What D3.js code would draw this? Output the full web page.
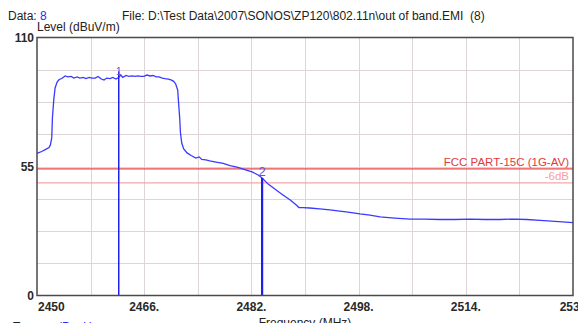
<!DOCTYPE html>
<html>
<head>
<meta charset="utf-8">
<script src="https://cdn.jsdelivr.net/npm/d3@7"></script>
<style>
  html, body { margin: 0; padding: 0; background: #fff; overflow: hidden; }
  svg { display: block; font-family: "Liberation Sans", Arial, sans-serif; }
</style>
</head>
<body>
<svg id="chart" width="578" height="323"></svg>
<script>
// Trace: frequency (MHz) and level (dBuV/m)
const freq = [
  2450.0, 2450.7, 2451.3, 2451.8, 2452.0, 2452.2, 2452.3, 2452.5, 2452.7, 2453.0,
  2453.3, 2453.7, 2454.2, 2454.6, 2455.1, 2455.5, 2456.0, 2456.4, 2456.9, 2457.3,
  2457.8, 2458.2, 2458.7, 2459.1, 2459.6, 2460.0, 2460.4, 2460.9, 2461.3, 2461.8,
  2462.2, 2462.5, 2462.8, 2463.3, 2463.7, 2464.2, 2464.6, 2465.1, 2465.5, 2466.0,
  2466.4, 2466.9, 2467.3, 2467.8, 2468.2, 2468.7, 2469.1, 2469.6, 2470.0, 2470.4,
  2470.7, 2471.0, 2471.1, 2471.3, 2471.4, 2471.6, 2471.9, 2472.4, 2473.0, 2473.7,
  2474.2, 2474.6, 2475.2, 2475.8, 2476.7, 2477.8, 2478.8, 2480.0, 2481.0, 2482.1,
  2483.0, 2483.6, 2484.5, 2485.5, 2486.6, 2487.8, 2488.7, 2489.1, 2489.7, 2490.7,
  2492.2, 2493.7, 2495.2, 2496.7, 2498.2, 2499.7, 2501.2, 2503.4, 2505.7, 2507.9,
  2510.1, 2512.4, 2514.6, 2516.9, 2519.1, 2521.3, 2523.1, 2525.1, 2527.3, 2530.0
];
const level = [
  60.6, 61.4, 62.3, 63.1, 64.2, 67.2, 75.7, 83.4, 88.5, 91.0,
  92.1, 92.5, 93.6, 93.2, 93.4, 92.7, 93.2, 92.7, 93.0, 92.5,
  93.0, 92.7, 92.7, 93.4, 92.3, 91.9, 92.7, 92.5, 93.0, 92.3,
  93.0, 94.0, 93.0, 93.8, 93.4, 93.6, 93.4, 93.6, 93.4, 93.4,
  94.0, 93.6, 93.8, 93.2, 93.2, 92.7, 92.5, 92.3, 91.9, 91.3,
  90.2, 87.6, 83.4, 75.7, 69.7, 65.0, 62.5, 60.8, 59.7, 58.6,
  59.1, 58.0, 57.8, 57.4, 56.9, 56.3, 55.4, 54.6, 53.7, 52.7,
  51.4, 50.1, 47.5, 45.4, 43.1, 40.7, 38.6, 37.5, 37.5, 37.3,
  36.9, 36.5, 36.0, 35.4, 34.8, 34.3, 33.5, 33.0, 32.6, 32.6,
  32.4, 32.4, 32.6, 32.4, 32.4, 32.6, 32.4, 32.0, 31.6, 31.1
];

// Markers
const markerLabels = ["1", "2"];
const markerFreq = [2462.2, 2483.6];
const markerLevel = [93.0, 50.1];

// Limit lines
const limitNames = ["FCC PART-15C (1G-AV)", "-6dB"];
const limitLevels = [54, 48];

// Axis ticks
const xTickValues = [2450, 2466, 2482, 2498, 2514, 2530];
const xTickLabels = ["2450", "2466.", "2482.", "2498.", "2514.", "2530"];
const yTickValues = [0, 55, 110];
const yTickLabels = ["0", "55", "110"];

const svg = d3.select("#chart");
const plotL = 37, plotR = 573, plotT = 37.5, plotB = 295.5;

const x = d3.scaleLinear().domain([2450, 2530]).range([plotL, plotR]);
const y = d3.scaleLinear().domain([0, 110]).range([plotB, plotT]);

// Grid
const grid = svg.append("g").attr("shape-rendering", "crispEdges");
grid.selectAll("line.v").data(d3.range(2458, 2530, 8)).enter().append("line")
  .attr("x1", d => Math.round(x(d)) + 0.5).attr("x2", d => Math.round(x(d)) + 0.5)
  .attr("y1", plotT).attr("y2", plotB)
  .attr("stroke", "#dcd4d6").attr("stroke-width", 1);
grid.selectAll("line.h").data(d3.range(1, 8).map(k => k * 13.75)).enter().append("line")
  .attr("y1", d => Math.round(y(d)) + 0.5).attr("y2", d => Math.round(y(d)) + 0.5)
  .attr("x1", plotL).attr("x2", plotR)
  .attr("stroke", "#dcd4d6").attr("stroke-width", 1);

// Limit lines
const limitColors = ["#e8484a", "#f4a6a6"];
const limitTextColors = ["#e03a3c", "#f4a0a0"];
limitLevels.forEach((lv, i) => {
  svg.append("line")
    .attr("x1", plotL).attr("x2", plotR)
    .attr("y1", y(lv)).attr("y2", y(lv))
    .attr("stroke", limitColors[i]).attr("stroke-width", 1.3);
  svg.append("text")
    .attr("x", plotR - 4).attr("y", y(lv) - 3)
    .attr("text-anchor", "end")
    .attr("font-size", 11.5)
    .attr("fill", limitTextColors[i])
    .text(limitNames[i]);
});

// Trace
const traceData = freq.map((f, i) => [f, level[i]]);
svg.append("path")
  .datum(traceData)
  .attr("d", d3.line().x(d => x(d[0])).y(d => y(d[1])))
  .attr("fill", "none")
  .attr("stroke", "#3a3aff")
  .attr("stroke-width", 1.3);

// Markers
const markerWidths = [1.5, 2.2];
const markerFont = [10, 13];
markerFreq.forEach((f, i) => {
  svg.append("line")
    .attr("x1", x(f)).attr("x2", x(f))
    .attr("y1", y(markerLevel[i]) - (i === 0 ? 6 : 0)).attr("y2", plotB)
    .attr("stroke", "#2020ee").attr("stroke-width", markerWidths[i]);
  svg.append("text")
    .attr("x", x(f)).attr("y", y(markerLevel[i]) - 2)
    .attr("text-anchor", "middle")
    .attr("font-size", markerFont[i])
    .attr("fill", "#6a50e0")
    .text(markerLabels[i]);
});

// Frame
svg.append("rect")
  .attr("x", plotL).attr("y", plotT)
  .attr("width", plotR - plotL).attr("height", plotB - plotT)
  .attr("fill", "none").attr("stroke", "#4a4a4a").attr("stroke-width", 1.5);

// Y tick labels
svg.append("g").selectAll("text").data(yTickValues).enter().append("text")
  .attr("x", plotL - 3).attr("y", d => y(d) + 4)
  .attr("text-anchor", "end")
  .attr("font-size", 12).attr("font-weight", "bold")
  .attr("fill", "#2a2a2a")
  .text((d, i) => yTickLabels[i]);

// X tick labels
svg.append("g").selectAll("text").data(xTickValues).enter().append("text")
  .attr("x", (d, i) => i === 0 ? x(d) + 1 : x(d))
  .attr("y", plotB + 15.5)
  .attr("text-anchor", (d, i) => i === 0 ? "start" : "middle")
  .attr("font-size", 12).attr("font-weight", "bold")
  .attr("fill", "#2a2a2a")
  .text((d, i) => xTickLabels[i]);

// Axis titles
svg.append("text").attr("x", plotL).attr("y", 31)
  .attr("font-size", 12).attr("fill", "#222").text("Level (dBuV/m)");
svg.append("text").attr("x", (plotL + plotR) / 2).attr("y", 327)
  .attr("text-anchor", "middle")
  .attr("font-size", 12).attr("fill", "#222").text("Frequency (MHz)");

// Header
const header = svg.append("text").attr("x", 8).attr("y", 20).attr("font-size", 12).attr("fill", "#222");
header.append("tspan").text("Data: ");
header.append("tspan").attr("fill", "#2a2aff").text("8");
svg.append("text").attr("x", 122).attr("y", 20)
  .attr("font-size", 12).attr("fill", "#222")
  .text("File: D:\\Test Data\\2007\\SONOS\\ZP120\\802.11n\\out of band.EMI\u00a0\u00a0(8)");

// Footer (partly outside the view)
const footer = svg.append("text").attr("x", 13).attr("y", 331).attr("font-size", 12).attr("fill", "#222");
footer.append("tspan").text("Trace: ");
footer.append("tspan").attr("dx", 8).attr("fill", "#2a2aff").text("(Peak)");
</script>
</body>
</html>
